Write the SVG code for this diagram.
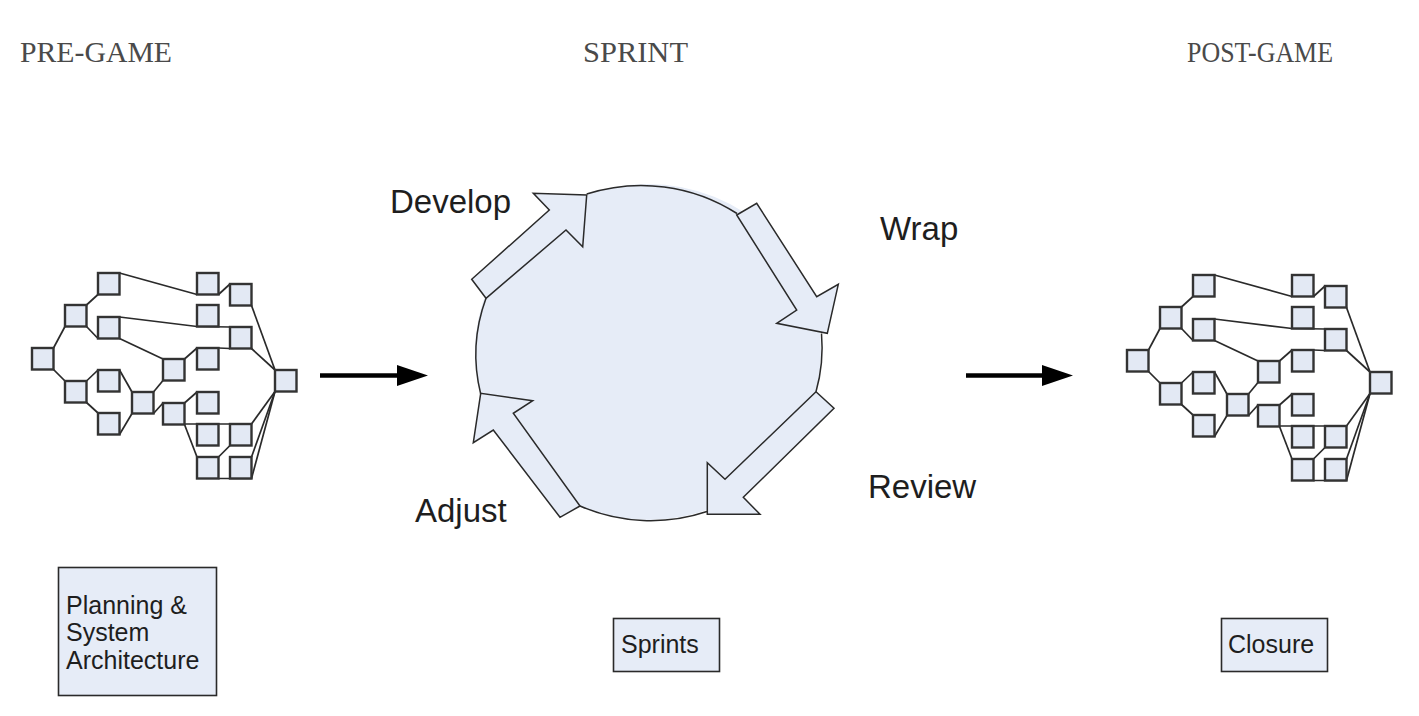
<svg xmlns="http://www.w3.org/2000/svg" xmlns:xlink="http://www.w3.org/1999/xlink" width="1419" height="716" viewBox="0 0 1419 716">
<style>
.hdr{font-family:"Liberation Serif",serif;font-size:29px;fill:#4a4a4a}
.lbl{font-family:"Liberation Sans",Arial,sans-serif;font-size:33px;fill:#1e1e1e}
.btxt{font-family:"Liberation Sans",Arial,sans-serif;font-size:25px;fill:#1e1e1e}
.box{fill:#e6ecf7;stroke:#2a2a2a;stroke-width:1.6}
.sq{fill:#e3e9f4;stroke:#333;stroke-width:2.4}
.ln{fill:none;stroke:#2a2a2a;stroke-width:1.7}
.circ{fill:#e6ecf7;stroke:none}
.arc{fill:none;stroke:#2a2a2a;stroke-width:1.5}
.blk{fill:#e6ecf7;stroke:#2a2a2a;stroke-width:1.5;stroke-linejoin:miter}
.flow{stroke:#000;stroke-width:4.5;fill:none}
</style>
<defs>
<g id="net">
<g class="ln">
<path d="M119.5,273 L197,294.5"/>
<path d="M218.5,294.5 L230,284"/>
<path d="M251.5,305.5 L275,370"/>
<path d="M86.5,305 L98,294.5"/>
<path d="M86.5,326.5 L98,338.5"/>
<path d="M119.5,317 L197,326.5 L230,327"/>
<path d="M119.5,338.5 L163,359"/>
<path d="M184.5,359 L197,348"/>
<path d="M218.5,348 L230,348.5"/>
<path d="M251.5,348.5 L275,370"/>
<path d="M53.5,348 L65,326.5"/>
<path d="M53.5,369.5 L65,381"/>
<path d="M86.5,381 L98,370"/>
<path d="M86.5,402.5 L98,413"/>
<path d="M119.5,370 L132,392"/>
<path d="M119.5,434.5 L132,413.5"/>
<path d="M153.5,392 L163,380.5"/>
<path d="M153.5,413.5 L163,403"/>
<path d="M184.5,403 L197,392"/>
<path d="M184.5,424.5 L197,457"/>
<path d="M184.5,424 L251.5,424"/>
<path d="M251.5,424 L275,391.5"/>
<path d="M218.5,457 L230,445.5"/>
<path d="M218.5,478.5 L251.5,478.5"/>
<path d="M251.5,478.5 L275,391.5"/>
<path d="M251.5,457 L275,391.5"/>
</g>
<g class="sq">
<rect x="98" y="273" width="21.5" height="21.5"/>
<rect x="197" y="273" width="21.5" height="21.5"/>
<rect x="230" y="284" width="21.5" height="21.5"/>
<rect x="65" y="305" width="21.5" height="21.5"/>
<rect x="98" y="317" width="21.5" height="21.5"/>
<rect x="197" y="305" width="21.5" height="21.5"/>
<rect x="230" y="327" width="21.5" height="21.5"/>
<rect x="32" y="348" width="21.5" height="21.5"/>
<rect x="163" y="359" width="21.5" height="21.5"/>
<rect x="197" y="348" width="21.5" height="21.5"/>
<rect x="275" y="370" width="21.5" height="21.5"/>
<rect x="98" y="370" width="21.5" height="21.5"/>
<rect x="65" y="381" width="21.5" height="21.5"/>
<rect x="132" y="392" width="21.5" height="21.5"/>
<rect x="197" y="392" width="21.5" height="21.5"/>
<rect x="163" y="403" width="21.5" height="21.5"/>
<rect x="98" y="413" width="21.5" height="21.5"/>
<rect x="197" y="424" width="21.5" height="21.5"/>
<rect x="230" y="424" width="21.5" height="21.5"/>
<rect x="197" y="457" width="21.5" height="21.5"/>
<rect x="230" y="457" width="21.5" height="21.5"/>
</g>
</g>
</defs>

<g id="headers">
<text class="hdr" x="20" y="62" textLength="152" lengthAdjust="spacingAndGlyphs">PRE-GAME</text>
<text class="hdr" x="583" y="62" textLength="105" lengthAdjust="spacingAndGlyphs">SPRINT</text>
<text class="hdr" x="1187" y="62" textLength="146" lengthAdjust="spacingAndGlyphs">POST-GAME</text>
</g>

<g id="pre-network"><use xlink:href="#net" href="#net"/></g>
<g id="post-network"><use xlink:href="#net" href="#net" transform="translate(1095,2)"/></g>

<g id="sprint-cycle">
<ellipse class="circ" cx="648" cy="352" rx="173" ry="168"/>
<path class="arc" d="M586.7,194 A173,168 0 0 1 737,213.5"/>
<path class="arc" d="M821.5,333.5 A173,168 0 0 1 816,391.7"/>
<path class="arc" d="M707,511.5 A173,168 0 0 1 580,506"/>
<path class="arc" d="M480.7,394 A173,168 0 0 1 486,298.3"/>
<polygon id="arrow-develop" class="blk" points="486,298.3 471.7,279.3 549.3,210 533.3,193.3 586.7,195 582.7,246.7 566,230"/>
<polygon id="arrow-wrap" class="blk" points="736.7,215 756.7,203.3 816.7,296.7 838.3,284.3 827.3,333.3 776.7,323.3 796.7,310"/>
<polygon id="arrow-review" class="blk" points="816,391.7 834,408.3 743.3,497.3 760,514.3 707.3,514.3 707.3,462.7 725,479.3"/>
<polygon id="arrow-adjust" class="blk" points="580,506 560,517.3 493.3,430 473.3,442.7 480.7,393.3 532.7,400.7 513.3,413.3"/>
</g>

<g id="labels">
<text class="lbl" x="390" y="213">Develop</text>
<text class="lbl" x="880" y="240">Wrap</text>
<text class="lbl" x="868" y="498">Review</text>
<text class="lbl" x="415" y="522">Adjust</text>
</g>

<g id="connectors">
<line class="flow" x1="320" y1="375.5" x2="399" y2="375.5"/>
<polygon points="397,365 428,375.5 397,386" fill="#000"/>
<line class="flow" x1="966" y1="375.5" x2="1044" y2="375.5"/>
<polygon points="1042,365 1073,375.5 1042,386" fill="#000"/>
</g>

<g id="box-planning">
<rect class="box" x="58.5" y="567.5" width="158" height="128"/>
<text class="btxt" x="66" y="614">Planning &amp;</text>
<text class="btxt" x="66" y="641">System</text>
<text class="btxt" x="66" y="669">Architecture</text>
</g>
<g id="box-sprints">
<rect class="box" x="613.5" y="618.5" width="106" height="53"/>
<text class="btxt" x="621" y="653">Sprints</text>
</g>
<g id="box-closure">
<rect class="box" x="1221.5" y="618.5" width="106" height="53"/>
<text class="btxt" x="1228" y="653">Closure</text>
</g>
</svg>
